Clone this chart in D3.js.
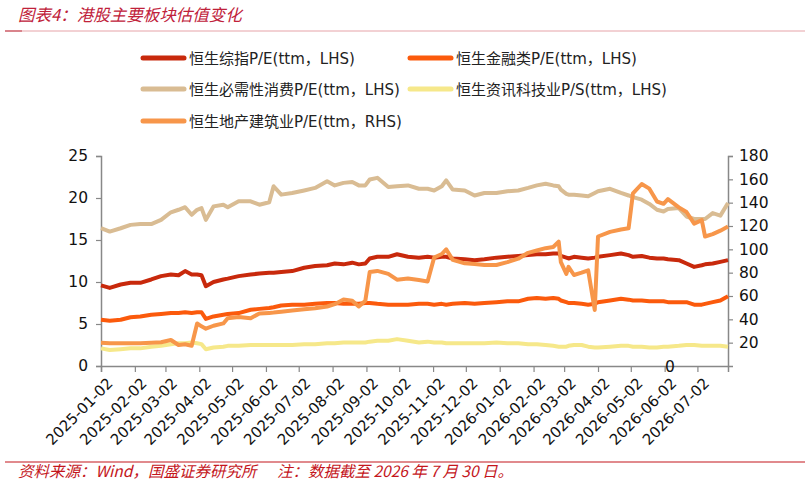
<!DOCTYPE html>
<html>
<head>
<meta charset="utf-8">
<script src="https://cdn.jsdelivr.net/npm/d3@7"></script>
<style>
  body { margin: 0; background: #fff; }
  svg { display: block; font-family: "DejaVu Sans", Verdana, sans-serif; }
  .cn { font-family: "Noto Sans CJK SC", sans-serif; }
</style>
</head>
<body>
<svg id="chart" width="810" height="486"></svg>
<script>
// sample dates (roughly weekly, denser around jumps)
const dates = [
  "2025-01-02","2025-01-10","2025-01-20","2025-01-29","2025-02-07","2025-02-17","2025-02-26",
  "2025-03-07","2025-03-14","2025-03-20","2025-03-26","2025-03-31","2025-04-04","2025-04-08",
  "2025-04-15","2025-04-24","2025-04-28","2025-05-08","2025-05-19","2025-05-27","2025-06-05",
  "2025-06-09","2025-06-16","2025-06-26","2025-07-07","2025-07-17","2025-07-28","2025-08-04",
  "2025-08-12","2025-08-20","2025-08-26","2025-09-01","2025-09-05","2025-09-12","2025-09-22",
  "2025-09-30","2025-10-10","2025-10-20","2025-10-28","2025-11-03","2025-11-10","2025-11-14",
  "2025-11-20","2025-12-01","2025-12-10","2025-12-19","2025-12-30","2026-01-09","2026-01-19",
  "2026-01-28","2026-02-05","2026-02-13","2026-02-20","2026-02-25","2026-02-27","2026-03-04",
  "2026-03-06","2026-03-11","2026-03-18","2026-03-24","2026-03-30","2026-04-02","2026-04-13",
  "2026-04-23","2026-04-30","2026-05-04","2026-05-12","2026-05-19","2026-05-26","2026-06-01",
  "2026-06-05","2026-06-15","2026-06-22","2026-06-29","2026-07-06","2026-07-09","2026-07-16",
  "2026-07-23","2026-07-30"
];

// 恒生综指 P/E (LHS)
const hsciPE = [
  9.6, 9.3, 9.7, 9.9, 9.9, 10.3, 10.7,
  10.9, 10.8, 11.3, 10.9, 10.9, 10.8, 9.5,
  10.0, 10.3, 10.4, 10.7, 10.9, 11.0, 11.1,
  11.1, 11.2, 11.3, 11.7, 11.9, 12.0, 12.2,
  12.1, 12.3, 12.1, 12.2, 12.8, 13.0, 13.0,
  13.3, 13.0, 12.9, 13.0, 12.9, 13.0, 13.0,
  12.8, 12.7, 12.6, 12.7, 12.9, 13.0, 13.1,
  13.2, 13.3, 13.3, 13.4, 13.4, 13.1, 12.9,
  12.8, 13.0, 12.9, 12.8, 12.9, 13.0, 13.2,
  13.4, 13.2, 13.0, 13.1, 12.9, 12.8, 12.8,
  12.7, 12.6, 12.2, 11.8, 12.0, 12.1, 12.2,
  12.4, 12.6
];

// 恒生金融类 P/E (LHS)
const finPE = [
  5.5, 5.4, 5.5, 5.8, 5.9, 6.1, 6.2,
  6.3, 6.3, 6.4, 6.3, 6.4, 6.4, 5.6,
  5.9, 6.1, 6.2, 6.3, 6.7, 6.8, 6.9,
  7.0, 7.2, 7.3, 7.3, 7.4, 7.5, 7.5,
  7.4, 7.4, 7.4, 7.5, 7.5, 7.4, 7.3,
  7.3, 7.3, 7.4, 7.4, 7.3, 7.4, 7.3,
  7.4, 7.5, 7.4, 7.5, 7.6, 7.7, 7.7,
  8.0, 8.1, 8.0, 8.1, 8.0, 7.8, 7.6,
  7.5, 7.5, 7.4, 7.3, 7.4, 7.6, 7.8,
  8.0, 7.9, 7.8, 7.8, 7.7, 7.7, 7.7,
  7.6, 7.6, 7.6, 7.3, 7.3, 7.4, 7.6,
  7.8, 8.3
];

// 恒生必需性消费 P/E (LHS)
const staplesPE = [
  16.4, 16.0, 16.4, 16.8, 16.9, 16.9, 17.4,
  18.3, 18.6, 18.9, 18.0, 18.6, 18.8, 17.4,
  19.0, 19.2, 18.9, 19.6, 19.6, 19.2, 19.5,
  21.4, 20.4, 20.6, 20.9, 21.2, 22.0, 21.5,
  21.8, 21.9, 21.5, 21.5, 22.2, 22.4, 21.3,
  21.4, 21.5, 21.1, 21.1, 20.9, 21.4, 22.1,
  21.0, 20.9, 20.3, 20.6, 20.6, 20.8, 20.9,
  21.2, 21.5, 21.7, 21.5, 21.4, 21.0, 20.5,
  20.4, 20.4, 20.3, 20.2, 20.6, 20.8, 21.1,
  20.6, 20.3, 20.1, 19.8, 19.3, 18.6, 18.4,
  18.7, 18.8, 17.8, 17.5, 17.5, 17.5, 18.2,
  17.9, 19.4
];

// 恒生资讯科技业 P/S (LHS)
const techPS = [
  2.1, 1.9, 2.0, 2.1, 2.1, 2.3, 2.4,
  2.6, 2.7, 2.7, 2.8, 2.7, 2.6, 2.0,
  2.2, 2.3, 2.4, 2.4, 2.5, 2.5, 2.5,
  2.5, 2.5, 2.5, 2.6, 2.6, 2.7, 2.7,
  2.8, 2.8, 2.8, 2.8, 2.9, 3.0, 3.0,
  3.2, 3.0, 2.8, 2.9, 2.8, 2.8, 2.7,
  2.7, 2.7, 2.7, 2.7, 2.8, 2.7, 2.7,
  2.6, 2.6, 2.5, 2.4, 2.3, 2.3, 2.3,
  2.4, 2.5, 2.5, 2.3, 2.2, 2.2, 2.3,
  2.4, 2.4, 2.3, 2.3, 2.2, 2.2, 2.3,
  2.3, 2.4, 2.5, 2.5, 2.4, 2.4, 2.4,
  2.4, 2.3
];

// 恒生地产建筑业 P/E (RHS)
const propertyPE = [
  20.0, 19.6, 19.4, 19.5, 19.6, 20.0, 20.3,
  22.3, 18.0, 18.6, 17.3, 36.5, 34.0, 32.0,
  34.5, 36.5, 41.0, 42.0, 41.0, 45.0, 45.5,
  45.8, 46.5, 47.5, 48.6, 49.5, 51.0, 53.0,
  57.0, 56.0, 51.0, 56.0, 80.5, 81.5, 79.0,
  74.0, 75.0, 73.7, 72.5, 93.0, 96.0, 100.0,
  91.0, 88.0, 87.4, 86.6, 86.6, 89.0, 92.0,
  97.0, 99.0, 101.0, 102.0, 106.6, 89.0, 79.0,
  85.0, 78.0, 80.0, 82.0, 48.0, 111.0, 115.0,
  117.0, 118.0, 148.0, 156.0, 152.0, 141.0, 139.0,
  143.0, 136.0, 132.0, 122.0, 125.0, 111.0, 113.0,
  116.0, 119.5
];

const leftTicks = [0, 5, 10, 15, 20, 25];
const rightTicks = [20, 40, 60, 80, 100, 120, 140, 160, 180];
const xTickDates = [
  "2025-01-02","2025-02-02","2025-03-02","2025-04-02","2025-05-02","2025-06-02",
  "2025-07-02","2025-08-02","2025-09-02","2025-10-02","2025-11-02","2025-12-02",
  "2026-01-02","2026-02-02","2026-03-02","2026-04-02","2026-05-02","2026-06-02","2026-07-02"
];

const seriesList = [
  { name: "恒生综指P/E(ttm，LHS)", values: hsciPE, color: "#c8290c", axis: "left" },
  { name: "恒生金融类P/E(ttm，LHS)", values: finPE, color: "#fb5a0c", axis: "left" },
  { name: "恒生必需性消费P/E(ttm，LHS)", values: staplesPE, color: "#d9bc93", axis: "left" },
  { name: "恒生资讯科技业P/S(ttm，LHS)", values: techPS, color: "#f6e88a", axis: "left" },
  { name: "恒生地产建筑业P/E(ttm，RHS)", values: propertyPE, color: "#f7964a", axis: "right" }
];

const parseDate = d3.timeParse("%Y-%m-%d");
const dateObjs = dates.map(parseDate);

const svg = d3.select("#chart");
const plotLeft = 101, plotRight = 728, plotTop = 156, plotBottom = 366;

const x = d3.scaleTime()
  .domain([parseDate("2025-01-02"), parseDate("2026-07-30")])
  .range([plotLeft, plotRight]);
const yL = d3.scaleLinear().domain([0, 25]).range([plotBottom, plotTop]);
const yR = d3.scaleLinear().domain([0, 180]).range([plotBottom, plotTop]);

// title
svg.append("text")
  .attr("class", "cn")
  .attr("x", 18).attr("y", 21)
  .attr("font-size", 16.5)
  .attr("font-style", "italic")
  .attr("fill", "#c0213a")
  .text("图表4：港股主要板块估值变化");
svg.append("line")
  .attr("x1", 5).attr("x2", 805).attr("y1", 31).attr("y2", 31)
  .attr("stroke", "#e6a3a8").attr("stroke-width", 1);
svg.append("line")
  .attr("x1", 5).attr("x2", 22).attr("y1", 31).attr("y2", 31)
  .attr("stroke", "#d06a74").attr("stroke-width", 1.5);

// legend
const legendPos = [
  [143, 58], [410, 58], [143, 89], [410, 89], [143, 121]
];
seriesList.forEach((s, i) => {
  const [lx, ly] = legendPos[i];
  svg.append("line")
    .attr("x1", lx).attr("x2", lx + 41).attr("y1", ly).attr("y2", ly)
    .attr("stroke", s.color).attr("stroke-width", 5).attr("stroke-linecap", "round");
  svg.append("text")
    .attr("x", lx + 46).attr("y", ly + 5.5)
    .attr("font-size", 15)
    .attr("fill", "#222")
    .attr("font-family", "'DejaVu Sans', 'Noto Sans CJK SC', sans-serif")
    .text(s.name);
});

// axes
const axisColor = "#888";
const gL = svg.append("g").attr("transform", `translate(${plotLeft},0)`)
  .call(d3.axisLeft(yL).tickValues(leftTicks).tickSize(5).tickPadding(8));
const gR = svg.append("g").attr("transform", `translate(${plotRight},0)`)
  .call(d3.axisRight(yR).tickValues(rightTicks).tickSize(5).tickPadding(6));
const gX = svg.append("g").attr("transform", `translate(0,${plotBottom})`)
  .call(d3.axisBottom(x).tickValues(xTickDates.map(parseDate)).tickSize(6)
    .tickFormat(d3.timeFormat("%Y-%m-%d")));

[gL, gR, gX].forEach(g => {
  g.select(".domain").attr("stroke", axisColor).attr("stroke-width", 1.5);
  g.selectAll(".tick line").attr("stroke", axisColor).attr("stroke-width", 1.2);
  g.selectAll("text").attr("fill", "#111").attr("font-size", 15.5)
    .attr("font-family", "'DejaVu Sans', Verdana, sans-serif");
});
gX.selectAll("text")
  .attr("font-size", 15)
  .attr("text-anchor", "end")
  .attr("dy", 0)
  .attr("transform", "translate(6,12) rotate(-45)");

// the stray right-axis "0" label sits inside the plot in the original
svg.append("text")
  .attr("x", 670).attr("y", 372)
  .attr("text-anchor", "middle")
  .attr("font-size", 15.5).attr("fill", "#111")
  .text("0");

// lines
const plot = svg.append("g");
seriesList.forEach(s => {
  const yS = s.axis === "left" ? yL : yR;
  const line = d3.line()
    .x((d, i) => x(dateObjs[i]))
    .y(d => yS(d));
  plot.append("path")
    .datum(s.values)
    .attr("fill", "none")
    .attr("stroke", s.color)
    .attr("stroke-width", 4)
    .attr("stroke-linejoin", "round")
    .attr("d", line);
});

// footer
svg.append("line")
  .attr("x1", 5).attr("x2", 805).attr("y1", 462).attr("y2", 462)
  .attr("stroke", "#c4161c").attr("stroke-width", 1.2);
svg.append("text")
  .attr("class", "cn")
  .attr("x", 18).attr("y", 477)
  .attr("font-size", 15.5)
  .attr("font-style", "italic")
  .attr("fill", "#c4161c")
  .text("资料来源：Wind，国盛证券研究所");
svg.append("text")
  .attr("class", "cn")
  .attr("x", 277).attr("y", 477)
  .attr("font-size", 15.5)
  .attr("font-style", "italic")
  .attr("fill", "#c4161c")
  .attr("xml:space", "preserve")
  .text("注：数据截至 2026 年 7 月 30 日。");
</script>
</body>
</html>
